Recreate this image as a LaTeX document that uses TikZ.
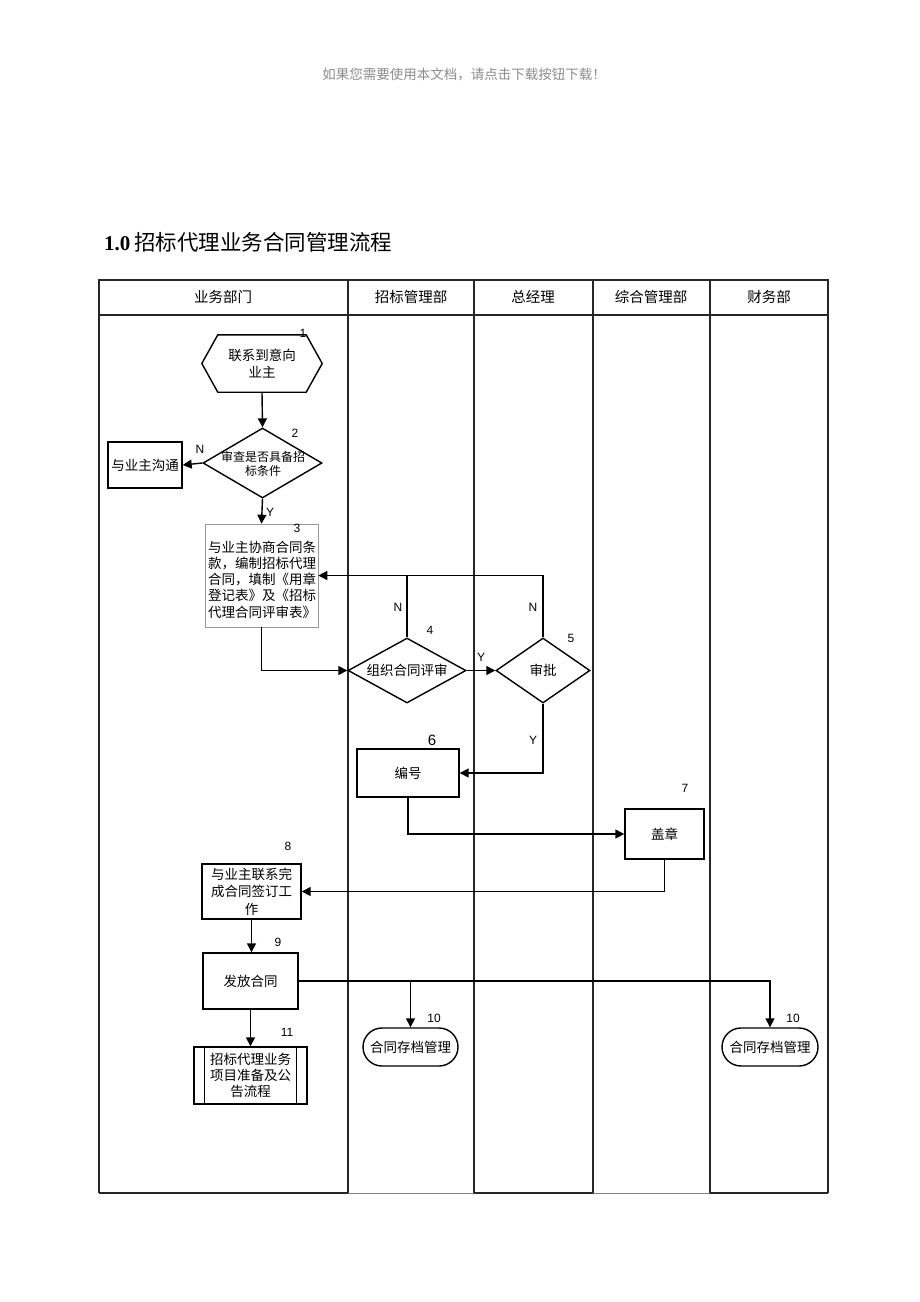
\documentclass[tikz,border=0pt]{standalone}
\usepackage{fontspec}
\setmainfont{Liberation Sans}
\newfontfamily\cjk{Noto Sans CJK SC}
\newfontfamily\titleserif{Liberation Serif}
\usetikzlibrary{shapes.geometric,arrows.meta,calc}
\begin{document}
\begin{tikzpicture}[x=1pt,y=-1pt,
  lane/.style={line width=1.4pt, black!85},
  conn/.style={line width=1.4pt, -{Triangle[length=9pt,width=9pt]}},
  plain/.style={line width=1.4pt},
  box/.style={draw, line width=1.4pt, rectangle, inner sep=0pt, font=\cjk\fontsize{13.5}{17.5}\selectfont, align=center},
  dia/.style={diamond, draw, line width=1.4pt, inner sep=0pt},
  dtext/.style={font=\cjk\fontsize{13.5}{17.5}\selectfont, align=center, inner sep=0pt},
  num/.style={font=\fontsize{12}{12}\selectfont, inner sep=0pt},
  hdr/.style={font=\cjk\fontsize{14.5}{14.5}\selectfont, inner sep=0pt},
]
\useasboundingbox[fill=white] (0,0) rectangle (920,1302);

% watermark and title
\node[font=\cjk\fontsize{13.5}{13.5}\selectfont, text=black!45, inner sep=0pt] (wm) at (464,75) {如果您需要使用本文档，请点击下载按钮下载！};
\node[anchor=west, inner sep=0pt] (title) at (104,242) {\titleserif\bfseries\fontsize{21}{21}\selectfont 1.0\hspace{4pt}\cjk\mdseries\fontsize{21.5}{21.5}\selectfont 招标代理业务合同管理流程};

% swimlanes
\draw[lane] (99,1193) -- (99,280) -- (828,280) -- (828,1193);
\draw[lane] (99,315) -- (828,315);
\foreach \x in {348,474,593,710} \draw[lane] (\x,280) -- (\x,1193);
\draw[lane] (99,1193) -- (348,1193);
\draw[lane] (474,1193) -- (593,1193);
\draw[lane] (710,1193) -- (828,1193);
\draw[gray, line width=0.6pt] (348,1193) -- (474,1193);
\draw[gray, line width=0.6pt] (593,1193) -- (710,1193);

\node[hdr] (h1) at (223,297) {业务部门};
\node[hdr] (h2) at (411,297) {招标管理部};
\node[hdr] (h3) at (533,297) {总经理};
\node[hdr] (h4) at (651,297) {综合管理部};
\node[hdr] (h5) at (769,297) {财务部};

% node 1 hexagon
\node[inner sep=0pt, minimum width=120pt, minimum height=57pt, font=\cjk\fontsize{13.5}{17.5}\selectfont, align=center] (n1) at (262,363.5) {联系到意向\\业主};
\draw[plain] (n1.west) -- ([xshift=16pt]n1.north west) -- ([xshift=-16pt]n1.north east) -- (n1.east) -- ([xshift=-16pt]n1.south east) -- ([xshift=16pt]n1.south west) -- cycle;
\node[num] (l1) at (303,333) {1};

% node 2 diamond
\node[dia, minimum width=119pt, minimum height=70pt] (n2) at (262.5,463) {};
\node[dtext, font=\cjk\fontsize{12}{14.5}\selectfont] (t2) at (263,464) {审查是否具备招\\标条件};
\node[num] (l2) at (295,433) {2};

\node[box, minimum width=74pt, minimum height=46pt] (nc) at (145,465) {与业主沟通};

% node 3
\node[draw=black!40, line width=0.6pt, minimum width=113pt, minimum height=103pt, inner sep=0pt] (n3) at (261.5,575.5) {};
\node[inner sep=0pt, font=\cjk\fontsize{13.5}{16.3}\selectfont, align=left] (t3) at (262,579.5) {与业主协商合同条\\款，编制招标代理\\合同，填制《用章\\登记表》及《招标\\代理合同评审表》};
\node[num] (l3) at (297,528) {3};

% node 4, 5
\node[dia, minimum width=118pt, minimum height=65pt] (n4) at (407,670.5) {};
\node[dtext] (t4) at (n4) {组织合同评审};
\node[num] (l4) at (430,630) {4};
\node[dia, minimum width=94pt, minimum height=65pt] (n5) at (543,670.5) {};
\node[dtext] (t5) at (n5) {审批};
\node[num] (l5) at (571,638) {5};

% node 6, 7
\node[box, minimum width=102pt, minimum height=48pt] (n6) at (408,773) {编号};
\node[num, font=\fontsize{15}{15}\selectfont] (l6) at (432,740) {6};
\node[box, minimum width=79pt, minimum height=50pt] (n7) at (664.5,834) {盖章};
\node[num] (l7) at (685,788) {7};

% node 8, 9, 11
\node[box, minimum width=99pt, minimum height=55pt] (n8) at (251.5,891.5) {与业主联系完\\成合同签订工\\作};
\node[num] (l8) at (288,846) {8};
\node[box, minimum width=95pt, minimum height=56pt] (n9) at (250.5,981) {发放合同};
\node[num] (l9) at (278,942) {9};
\node[box, minimum width=113pt, minimum height=57pt, font=\cjk\fontsize{13.5}{16}\selectfont] (n11) at (250.5,1075.5) {招标代理业务\\项目准备及公\\告流程};
\draw[plain] ([xshift=11pt]n11.north west) -- ([xshift=11pt]n11.south west);
\draw[plain] ([xshift=-11pt]n11.north east) -- ([xshift=-11pt]n11.south east);
\node[num] (l11) at (287,1032) {11};

% node 10
\node[box, rounded corners=19pt, minimum width=95pt, minimum height=38pt] (n10a) at (410.5,1047) {合同存档管理};
\node[num] (l10a) at (434,1018) {10};
\node[box, rounded corners=19pt, minimum width=96pt, minimum height=38pt] (n10b) at (770,1047) {合同存档管理};
\node[num] (l10b) at (793,1018) {10};

% connectors
\draw[conn] (n1.south) -- (n2.north);
\draw[conn] (n2.west) -- (nc.east);
\node[num] (lN1) at (200,449) {N};
\draw[conn] (n2.south) -- (n3.north);
\node[num] (lY1) at (270,512) {Y};
\draw[conn] (n3.south) |- (n4.west);
\draw[conn] (n4.north) |- (n3.east);
\draw[plain] (n5.north) |- (n4.north |- n3.east);
\node[num] (lN2) at (398,607) {N};
\node[num] (lN3) at (533,607) {N};
\draw[conn] (n4.east) -- (n5.west);
\node[num] (lY2) at (481,657) {Y};
\draw[conn] (n5.south) |- (n6.east);
\node[num] (lY3) at (533,740) {Y};
\draw[conn] (n6.south) |- (n7.west);
\draw[conn] (n7.south) |- (n8.east);
\draw[conn] (n8.south) -- (n8.south |- n9.north);
\draw[conn] (n9.south) -- (n11.north);
\draw[conn] (n9.east) -| (n10b.north);
\draw[conn] (n10a.north |- n9.east) -- (n10a.north);
\end{tikzpicture}
\end{document}
